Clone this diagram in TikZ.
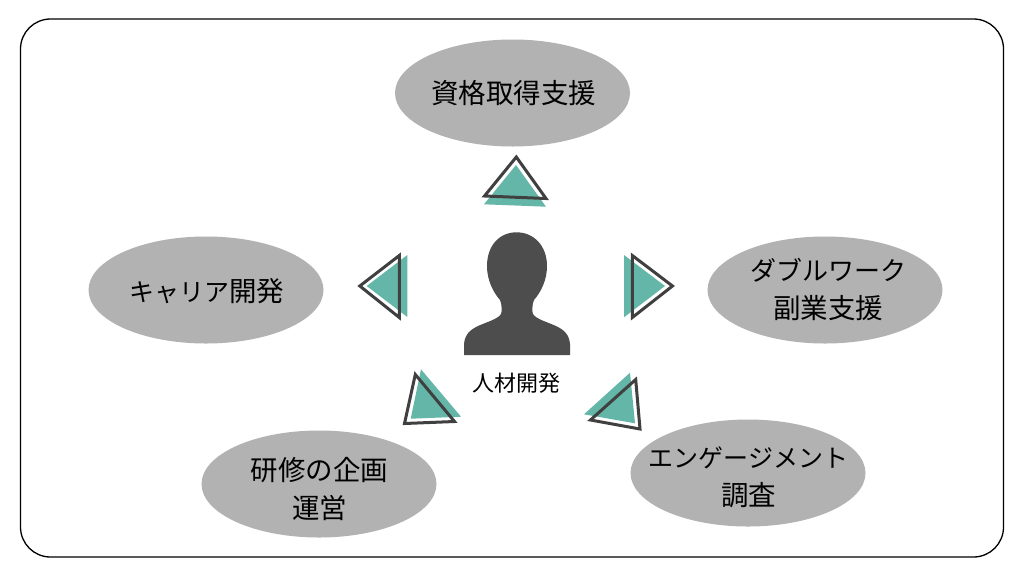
\documentclass[tikz,border=0pt]{standalone}
\usepackage{fontspec}
\usetikzlibrary{shapes.geometric}
\setmainfont{Noto Sans CJK JP}
\definecolor{ovalgrey}{HTML}{B2B2B2}
\definecolor{tealfill}{HTML}{64B7A8}
\definecolor{darkline}{HTML}{404040}
\definecolor{personfill}{HTML}{4D4D4D}
\newcommand{\kanjisize}{\fontsize{27.5}{38}\selectfont}
\newcommand{\kanasize}{\fontsize{25}{38}\selectfont}
\newcommand{\kanawide}{\fontsize{26}{38}\selectfont}
\tikzset{
  oval/.style={ellipse,fill=ovalgrey,minimum width=235pt,minimum height=107pt,inner sep=0pt},
  ovaltext/.style={align=center,inner sep=0pt,text=black,font=\kanjisize},
  tealtri/.style={fill=tealfill,draw=none},
  linetri/.style={draw=darkline,line width=3pt,line join=miter,fill=none},
  caption/.style={font=\fontsize{22}{26}\selectfont,text=black,inner sep=0pt}
}
\begin{document}
\begin{tikzpicture}[x=1pt,y=-1pt]
\useasboundingbox (0,0) rectangle (1024,576);
\fill[white] (0,0) rectangle (1024,576);
\draw[black,line width=1.3pt,rounded corners=30pt] (20.5,19) rectangle (1003.5,557);

\node[oval] (shikaku) at (512.5,93) {};
\node[oval] (career) at (206,290) {};
\node[oval] (double) at (825,290) {};
\node[oval] (kenshu) at (319,484) {};
\node[oval] (engage) at (748,473) {};

\node[ovaltext] (shikakut) at (513.5,93.5) {資格取得支援};
\node[ovaltext] (careert) at (206.5,291) {\kanasize キャリア\kanjisize 開発};
\node[ovaltext] (doublet) at (828,289) {\kanawide ダブルワーク\\\kanjisize 副業支援};
\node[ovaltext] (kenshut) at (319.5,489) {研修の企画\\運営};
\node[ovaltext] (engaget) at (748.5,477) {\kanasize エンゲージメント\\\kanjisize 調査};

% teal triangles
\fill[tealtri] (516,165) -- (484,204.3) -- (546,206.7) -- cycle;
\fill[tealtri] (624,255) -- (665,286) -- (624,317.3) -- cycle;
\fill[tealtri] (366.7,286) -- (407.3,255) -- (407.3,317) -- cycle;
\fill[tealtri] (421,369.3) -- (410.7,418.7) -- (461,416.7) -- cycle;
\fill[tealtri] (630,372.7) -- (584,414.3) -- (635,423.3) -- cycle;
% outlined triangles
\draw[linetri] (516.3,157) -- (484.5,196) -- (546,198.5) -- cycle;
\draw[linetri] (632.3,255.5) -- (672.5,286) -- (632.3,317.5) -- cycle;
\draw[linetri] (359.8,286) -- (399.3,255.5) -- (399.3,317.5) -- cycle;
\draw[linetri] (415.3,374.5) -- (404.5,423.5) -- (454.5,421.5) -- cycle;
\draw[linetri] (635.7,379.5) -- (590.5,420) -- (640,429) -- cycle;

% person
\fill[personfill] (516.5,232.3)
  .. controls (499,232.3) and (487,246) .. (487,266)
  .. controls (487,280) and (493,292) .. (500,300)
  .. controls (502,304) and (502,312) .. (501,314)
  .. controls (498,319) and (487,322) .. (478,326)
  .. controls (470,330) and (465,334) .. (464,344)
  -- (464,355) -- (570,355) -- (570,344)
  .. controls (569,334) and (564,330) .. (556,326)
  .. controls (547,322) and (536,319) .. (533,314)
  .. controls (532,312) and (532,304) .. (534,300)
  .. controls (541,292) and (547,280) .. (547,266)
  .. controls (547,246) and (534,232.3) .. (516.5,232.3) -- cycle;
\node[caption] (jinzai) at (516,383) {人材開発};
\end{tikzpicture}
\end{document}
